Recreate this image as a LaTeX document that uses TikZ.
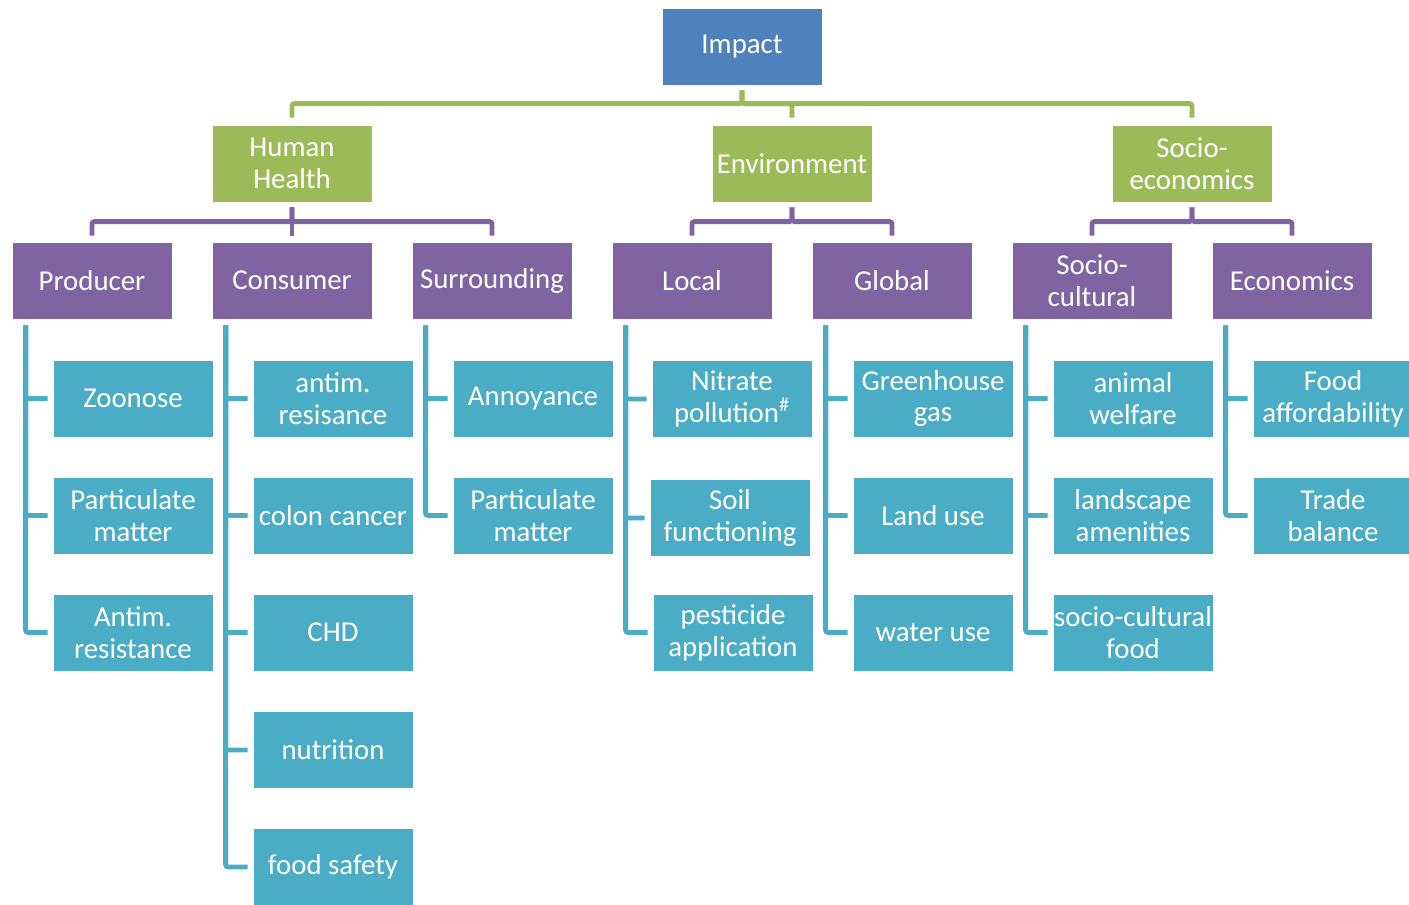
\documentclass[tikz,border=0pt]{standalone}
\usepackage{fontspec}
\setmainfont{Carlito}
\usetikzlibrary{calc}
\definecolor{Blue}{HTML}{4F81BD}
\definecolor{Green}{HTML}{9BBB59}
\definecolor{Purple}{HTML}{8064A2}
\definecolor{Teal}{HTML}{4BACC6}

\begin{document}
\begin{tikzpicture}[x=0.02cm,y=-0.02cm,font=\fontsize{16.4}{18.1}\selectfont,
    box/.style={text=white,align=center,inner sep=0pt,minimum width=3.2cm,minimum height=1.54cm,draw=white,line width=0.5pt},
    rootbox/.style={box,fill=Blue},
    areabox/.style={box,fill=Green},
    groupbox/.style={box,fill=Purple},
    itembox/.style={box,fill=Teal},
    greenbar/.style={Green,line width=2.8pt,rounded corners=1.5pt},
    purplebar/.style={Purple,line width=2.8pt,rounded corners=1.5pt},
    tealbar/.style={Teal,line width=2.8pt,rounded corners=1.5pt}]
  \useasboundingbox (0,0) rectangle (1409,904);
  % top
  \node[rootbox] (imp) at (742,46.5) {Impact};
  \node[areabox] (hh) at (292,163.5) {Human\\Health};
  \node[areabox] (env) at (792,163.5) {Environment};
  \node[areabox] (soc) at (1192,163.5) {Socio-\\economics};
  \foreach \a in {hh,env,soc}
    \draw[greenbar] ($(imp.south)+(0,5)$) |- ($(\a.north)+(0,-21)$) -- ($(\a.north)+(0,-7)$);
  % second level
  \node[groupbox] (prod) at (92,280.5) {Producer};
  \node[groupbox] (cons) at (292,280.5) {Consumer};
  \node[groupbox] (surr) at (492,280.5) {Surrounding};
  \node[groupbox] (loc) at (692,280.5) {Local};
  \node[groupbox] (glob) at (892,280.5) {Global};
  \node[groupbox] (scul) at (1092,280.5) {Socio-\\cultural};
  \node[groupbox] (econ) at (1292,280.5) {Economics};
  \foreach \a/\g in {hh/prod,hh/cons,hh/surr,env/loc,env/glob,soc/scul,soc/econ}
    \draw[purplebar] ($(\a.south)+(0,5)$) |- ($(\g.north)+(0,-20)$) -- ($(\g.north)+(0,-6)$);
  % items
  \node[itembox] (zoo) at (133,398.5) {Zoonose};
  \node[itembox] (pmp) at (133,515.5) {Particulate\\matter};
  \node[itembox] (amr) at (133,632.5) {Antim.\\resistance};
  \node[itembox] (ares) at (333,398.5) {antim.\\resisance};
  \node[itembox] (colon) at (333,515.5) {colon cancer};
  \node[itembox] (chd) at (333,632.5) {CHD};
  \node[itembox] (nutr) at (333,750) {nutrition};
  \node[itembox] (fsaf) at (333,867) {food safety};
  \node[itembox] (ann) at (533,398.5) {Annoyance};
  \node[itembox] (pms) at (533,515.5) {Particulate\\matter};
  \node[itembox] (nitr) at (732,399) {Nitrate\\pollution\textsuperscript{\#}};
  \node[itembox] (soil) at (730,518) {Soil\\functioning};
  \node[itembox] (pest) at (733,632.5) {pesticide\\application};
  \node[itembox] (ghg) at (933,398.5) {Greenhouse\\gas};
  \node[itembox] (land) at (933,515.5) {Land use};
  \node[itembox] (water) at (933,632.5) {water use};
  \node[itembox] (welf) at (1133,398.5) {animal\\welfare};
  \node[itembox] (lands) at (1133,515.5) {landscape\\amenities};
  \node[itembox] (scf) at (1133,632.5) {socio-cultural\\food};
  \node[itembox] (afford) at (1333,398.5) {Food\\affordability};
  \node[itembox] (trade) at (1333,515.5) {Trade\\balance};
  \foreach \g/\c in {prod/zoo,prod/pmp,prod/amr,cons/ares,cons/colon,cons/chd,cons/nutr,cons/fsaf,
      surr/ann,surr/pms,loc/nitr,loc/soil,loc/pest,glob/ghg,glob/land,glob/water,
      scul/welf,scul/lands,scul/scf,econ/afford,econ/trade}
    \draw[tealbar] ($(\g.south west)+(14,6)$) |- ($(\c.west)+(-5,0)$);
\end{tikzpicture}
\end{document}
